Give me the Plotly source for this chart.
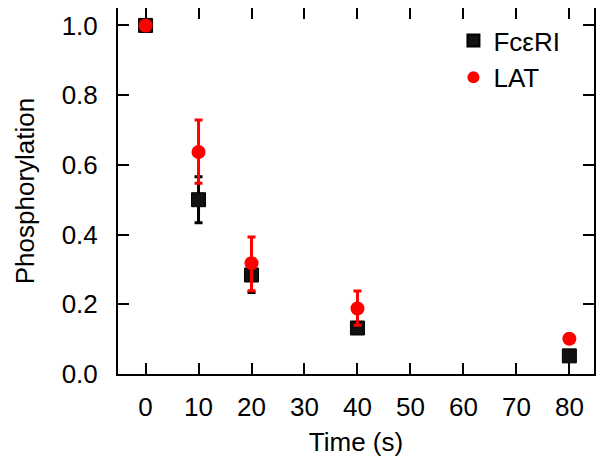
import plotly.graph_objects as go

time_s = [0, 10, 20, 40, 80]
fc_vals = [1.0, 0.50, 0.284, 0.132, 0.052]
fc_err_plus = [0.0, 0.066, 0.045, 0.015, 0.0]
fc_err_minus = [0.0, 0.066, 0.05, 0.015, 0.0]
lat_vals = [1.0, 0.637, 0.318, 0.188, 0.101]
lat_err_plus = [0.0, 0.092, 0.075, 0.05, 0.0]
lat_err_minus = [0.0, 0.09, 0.079, 0.048, 0.0]
x_ticks = [0, 10, 20, 30, 40, 50, 60, 70, 80]
y_ticks = [0.0, 0.2, 0.4, 0.6, 0.8, 1.0]

font = "Liberation Sans, Arial, sans-serif"

fig = go.Figure()
fig.add_trace(go.Scatter(
    x=time_s, y=fc_vals, mode="markers", name="FcεRI",
    marker=dict(symbol="square", size=14, color="#111111", line=dict(color="#000000", width=1)),
    error_y=dict(type="data", symmetric=False, array=fc_err_plus, arrayminus=fc_err_minus,
                 color="#000000", thickness=3, width=4),
))
fig.add_trace(go.Scatter(
    x=time_s, y=lat_vals, mode="markers", name="LAT",
    marker=dict(symbol="circle", size=14, color="#ff0000"),
    error_y=dict(type="data", symmetric=False, array=lat_err_plus, arrayminus=lat_err_minus,
                 color="#ff0000", thickness=3, width=4),
))

axis_common = dict(showline=True, linecolor="black", linewidth=2, mirror="ticks",
                   ticks="inside", ticklen=11, tickwidth=2, tickcolor="black",
                   showgrid=False, zeroline=False,
                   tickfont=dict(family=font, size=26, color="black"))
fig.update_xaxes(range=[-5.2, 84.65], tickvals=x_ticks, ticklabelstandoff=9,
                 title=dict(text="Time (s)", font=dict(family=font, size=26, color="black"), standoff=12),
                 **axis_common)
fig.update_yaxes(range=[0, 1.05], tickvals=y_ticks, tickformat=".1f", ticklabelstandoff=13,
                 title=dict(text="Phosphorylation", font=dict(family=font, size=26, color="black"), standoff=20),
                 **axis_common)

fig.update_layout(
    width=596, height=460,
    margin=dict(l=110, r=10, t=0, b=94, autoexpand=False),
    plot_bgcolor="white", paper_bgcolor="white",
    font=dict(family=font, color="black"),
    legend=dict(x=0.94, y=0.975, xanchor="right", yanchor="top",
                font=dict(family=font, size=26, color="black"),
                bgcolor="rgba(0,0,0,0)", itemsizing="constant", tracegroupgap=0),
)

fig.write_html("out.html")
